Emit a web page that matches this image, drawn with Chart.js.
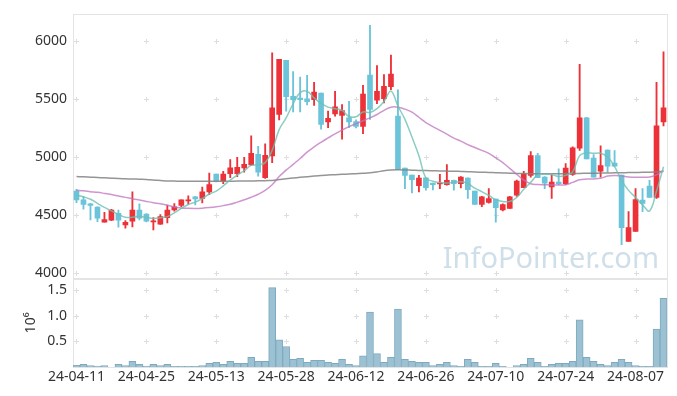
<!DOCTYPE html>
<html>
<head>
<meta charset="utf-8">
<script src="https://cdn.jsdelivr.net/npm/chart.js@4.4.0/dist/chart.umd.min.js"></script>
<style>
  body { margin: 0; background: #fff; }
  #wrap { width: 677px; height: 396px; }
</style>
</head>
<body>
<div id="wrap"><canvas id="chart"></canvas></div>
<script>
// trading days shown (yy-mm-dd)
const dates = [
  '24-04-11','24-04-12','24-04-15','24-04-16','24-04-17','24-04-18','24-04-19','24-04-22','24-04-23','24-04-24',
  '24-04-25','24-04-26','24-04-29','24-04-30','24-05-02','24-05-03','24-05-07','24-05-08','24-05-09','24-05-10',
  '24-05-13','24-05-14','24-05-16','24-05-17','24-05-20','24-05-21','24-05-22','24-05-23','24-05-24','24-05-27',
  '24-05-28','24-05-29','24-05-30','24-05-31','24-06-03','24-06-04','24-06-05','24-06-07','24-06-10','24-06-11',
  '24-06-12','24-06-13','24-06-14','24-06-17','24-06-18','24-06-19','24-06-20','24-06-21','24-06-24','24-06-25',
  '24-06-26','24-06-27','24-06-28','24-07-01','24-07-02','24-07-03','24-07-04','24-07-05','24-07-08','24-07-09',
  '24-07-10','24-07-11','24-07-12','24-07-15','24-07-16','24-07-17','24-07-18','24-07-19','24-07-22','24-07-23',
  '24-07-24','24-07-25','24-07-26','24-07-29','24-07-30','24-07-31','24-08-01','24-08-02','24-08-05','24-08-06',
  '24-08-07','24-08-08','24-08-09','24-08-12','24-08-13'
];

const open = [
  4706,4630,4596,4567,4437,4454,4513,4414,4446,4542, 4508,4440,4420,4477,4542,4581,4620,4655,4641,4698,
  4851,4791,4854,4854,4905,4930,5021,4820,5007,5364, 5830,5521,5506,5498,5492,5549,5300,5368,5356,5336,
  5302,5262,5702,5487,5500,5603,5351,4902,4843,4751, 4820,4774,4766,4760,4797,4768,4817,4704,4590,4607,
  4636,4542,4556,4670,4734,4840,5010,4825,4741,4783, 4768,4849,5075,5336,4990,4877,5058,4945,4843,4272,
  4357,4627,4749,4650,5300
];
const high = [
  4720,4660,4600,4570,4522,4548,4542,4452,4698,4596, 4510,4477,4502,4585,4598,4630,4664,4660,4740,4860,
  4851,4874,4976,4996,4996,5180,5089,5112,5895,5838, 5830,5733,5685,5700,5640,5549,5393,5563,5449,5478,
  5317,5614,6130,5785,5708,5875,5577,4902,4843,4840, 4820,4774,4849,4934,4800,4830,4820,4706,4660,4726,
  4636,4595,4660,4800,4874,5044,5030,4830,4845,4896, 4942,5085,5796,5340,5019,5095,5060,5053,4843,4528,
  4726,4726,4797,5640,5904
];
const low = [
  4605,4550,4457,4442,4437,4450,4394,4386,4397,4457, 4440,4372,4418,4431,4533,4570,4593,4585,4604,4675,
  4783,4768,4820,4830,4868,4925,4834,4815,4950,5317, 5393,5387,5387,5447,5441,5237,5251,5350,5151,5251,
  5248,5200,5322,5458,5464,5577,4891,4726,4689,4698, 4712,4715,4726,4755,4712,4732,4641,4590,4570,4600,
  4437,4535,4556,4660,4734,4825,4820,4726,4641,4760, 4760,4840,5055,4981,4825,4825,4868,4919,4244,4272,
  4357,4528,4650,4641,5266
];
const close = [
  4630,4590,4582,4471,4459,4542,4454,4437,4542,4471, 4446,4446,4485,4542,4570,4630,4630,4638,4698,4760,
  4791,4851,4905,4910,4936,5030,4868,5013,5421,5838, 5517,5492,5492,5475,5557,5279,5330,5430,5398,5300,
  5262,5540,5407,5563,5606,5711,4891,4840,4803,4817, 4734,4760,4774,4797,4768,4825,4717,4590,4655,4641,
  4562,4590,4655,4791,4851,5010,4820,4774,4783,4768, 4902,5078,5336,4981,4825,4925,4919,4919,4390,4392,
  4633,4598,4650,5266,5421
];
const volume = [
  32000,50000,30000,20000,30000,0,50000,30000,110000,50000,
  20000,50000,30000,50000,13000,13000,13000,13000,30000,70000,
  90000,50000,110000,70000,70000,190000,110000,110000,1550000,530000,
  400000,150000,170000,90000,130000,130000,90000,70000,150000,50000,
  30000,220000,1070000,260000,90000,190000,1130000,150000,110000,90000,
  90000,30000,50000,90000,30000,13000,150000,90000,13000,13000,
  70000,13000,0,30000,50000,170000,90000,13000,50000,70000,
  70000,110000,920000,190000,110000,50000,30000,90000,150000,90000,
  30000,13000,13000,740000,1340000
];
// moving averages as drawn in the picture
const ma5 = [
  4670,4655,4635,4600,4565,4535,4505,4480,4480,4488, 4478,4470,4475,4485,4518,4556,4590,4610,4640,4680,
  4705,4750,4800,4843,4880,4926,4930,4950,5055,5234, 5335,5456,5552,5563,5507,5459,5427,5414,5399,5347,
  5344,5386,5381,5414,5476,5565,5436,5322,5170,5010, 4817,4790,4778,4775,4780,4785,4770,4730,4700,4668,
  4630,4615,4616,4650,4720,4780,4845,4850,4848,4830, 4840,4870,5010,5035,5030,5030,4998,4915,4798,4711,
  4651,4587,4534,4705,4915
];
const ma20 = [
  4712,4708,4700,4694,4685,4675,4663,4651,4640,4628, 4616,4605,4596,4583,4568,4560,4557,4556,4558,4563,
  4570,4580,4592,4610,4630,4652,4678,4712,4760,4830, 4885,4935,4985,5040,5085,5125,5162,5198,5230,5260,
  5285,5310,5335,5364,5400,5427,5427,5410,5385,5340, 5294,5260,5228,5195,5160,5135,5105,5080,5055,5030,
  4990,4950,4900,4850,4800,4768,4762,4760,4758,4757, 4760,4780,4803,4808,4810,4815,4835,4840,4835,4826,
  4825,4825,4826,4845,4883
];
const ma120 = [
  4830,4828,4825,4822,4819,4816,4813,4811,4809,4807, 4805,4800,4796,4792,4791,4790,4790,4790,4789,4789,
  4789,4790,4790,4791,4791,4792,4793,4795,4797,4804, 4811,4817,4823,4829,4835,4840,4843,4846,4849,4852,
  4855,4858,4862,4870,4880,4886,4888,4887,4885,4883, 4882,4880,4878,4877,4876,4874,4872,4869,4867,4865,
  4863,4861,4859,4857,4856,4855,4855,4854,4854,4854, 4855,4856,4857,4858,4859,4860,4861,4862,4863,4864,
  4865,4866,4868,4871,4874
];

const priceTicks = [4000, 4500, 5000, 5500, 6000];
const volTicks = [500000, 1000000, 1500000];
const xTickLabels = ['24-04-11','24-04-25','24-05-13','24-05-28','24-06-12','24-06-26','24-07-10','24-07-24','24-08-07'];

const UP = '#ec3238';
const DOWN = '#6cc4da';
const candleColor = (c) => close[c.dataIndex] >= open[c.dataIndex] ? UP : DOWN;

const FONT = "'Noto Sans', sans-serif";

// light frame round each panel and little crosses where grid lines would meet
const framePlugin = {
  id: 'frame',
  beforeDatasetsDraw(chart) {
    const {ctx, chartArea, scales} = chart;
    const xs = scales.x;
    ctx.save();
    // watermark
    ctx.font = "29px " + FONT;
    ctx.fillStyle = 'rgba(160,192,212,0.5)';
    ctx.textAlign = 'right';
    ctx.textBaseline = 'alphabetic';
    ctx.fillText('InfoPointer.com', chartArea.right - 8, scales.y.bottom - 11);

    ctx.strokeStyle = '#e4e4e4';
    ctx.lineWidth = 1;
    [scales.y, scales.y2].forEach(s => {
      ctx.strokeRect(Math.round(chartArea.left) + 0.5, Math.round(s.top) + 0.5,
        Math.round(chartArea.right - chartArea.left), Math.round(s.bottom - s.top));
    });

    ctx.strokeStyle = '#dedede';
    const arm = 2.5;
    [scales.y, scales.y2].forEach(s => {
      s.ticks.forEach(t => {
        const py = Math.round(s.getPixelForValue(t.value)) + 0.5;
        xs.ticks.forEach(xt => {
          const px = Math.round(xs.getPixelForValue(xt.value)) + 0.5;
          ctx.beginPath();
          ctx.moveTo(px - arm, py); ctx.lineTo(px + arm, py);
          ctx.moveTo(px, py - arm); ctx.lineTo(px, py + arm);
          ctx.stroke();
        });
      });
    });
    ctx.restore();
  }
};

const ctx = document.getElementById('chart');

new Chart(ctx, {
  type: 'bar',
  data: {
    labels: dates,
    datasets: [
      {
        type: 'line', label: 'MA5', data: ma5, yAxisID: 'y', order: 0,
        borderColor: 'rgba(110,192,178,0.8)', borderWidth: 1.5, pointRadius: 0, tension: 0.4
      },
      {
        type: 'line', label: 'MA20', data: ma20, yAxisID: 'y', order: 0,
        borderColor: 'rgba(190,115,190,0.75)', borderWidth: 1.5, pointRadius: 0, tension: 0.4
      },
      {
        type: 'line', label: 'MA120', data: ma120, yAxisID: 'y', order: 0,
        borderColor: 'rgba(130,130,130,0.85)', borderWidth: 1.5, pointRadius: 0, tension: 0.4
      },
      {
        label: 'body', data: open.map((o, i) => [o, close[i]]), yAxisID: 'y', order: 1,
        backgroundColor: candleColor, barThickness: 5, grouped: false, minBarLength: 1
      },
      {
        label: 'wick', data: low.map((l, i) => [l, high[i]]), yAxisID: 'y', order: 2,
        backgroundColor: candleColor, barThickness: 1.2, grouped: false
      },
      {
        label: 'volume', data: volume, yAxisID: 'y2', order: 3,
        backgroundColor: '#9cc1d3', borderColor: '#7eaac0', borderWidth: 1,
        barPercentage: 1, categoryPercentage: 1, grouped: false
      }
    ]
  },
  options: {
    responsive: true,
    maintainAspectRatio: false,
    animation: false,
    layout: { padding: { top: 10, right: 10, left: 0, bottom: 0 } },
    plugins: { legend: { display: false }, tooltip: { enabled: false } },
    scales: {
      x: {
        grid: { display: false, drawTicks: false },
        border: { display: false },
        afterBuildTicks: (axis) => {
          axis.ticks = axis.ticks.filter(t => xTickLabels.includes(dates[t.value]));
        },
        afterFit: (axis) => { axis.height = 29; },
        ticks: {
          autoSkip: false, maxRotation: 0, padding: 2,
          color: '#333', font: { family: FONT, size: 14 }
        }
      },
      y2: {
        stack: 'panels', stackWeight: 1,
        min: 0, max: 1720000,
        grid: { display: false, drawTicks: false },
        border: { display: false },
        afterBuildTicks: (axis) => { axis.ticks = volTicks.map(v => ({ value: v })); },
        afterFit: (axis) => { axis.width = 73; },
        title: {
          display: true, text: '10⁶', color: '#333',
          font: { family: FONT, size: 14 }, padding: { top: 23, bottom: 0 }
        },
        ticks: {
          padding: 6, color: '#333', font: { family: FONT, size: 14 },
          callback: (v) => (v / 1e6).toFixed(1)
        }
      },
      y: {
        stack: 'panels', stackWeight: 3,
        min: 3950, max: 6225,
        grid: { display: false, drawTicks: false },
        border: { display: false },
        afterBuildTicks: (axis) => { axis.ticks = priceTicks.map(v => ({ value: v })); },
        afterFit: (axis) => { axis.width = 73; },
        ticks: {
          padding: 6, color: '#333', font: { family: FONT, size: 14 },
          callback: (v) => String(v)
        }
      }
    }
  },
  plugins: [framePlugin]
});
</script>
</body>
</html>
